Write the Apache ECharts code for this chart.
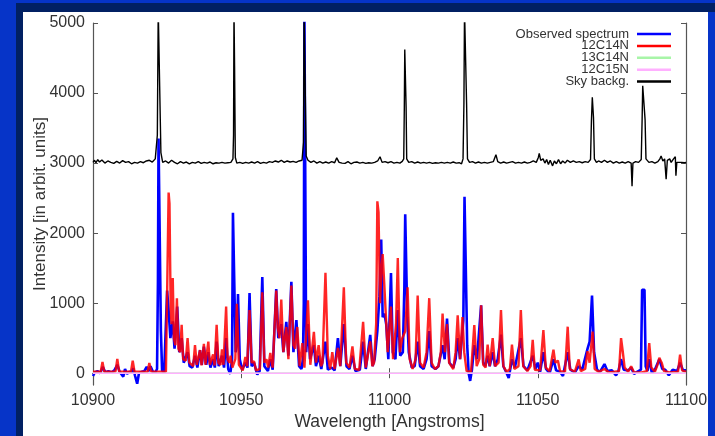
<!DOCTYPE html>
<html>
<head>
<meta charset="utf-8">
<script src="https://cdn.jsdelivr.net/npm/echarts@6/dist/echarts.min.js"></script>
<style>
  html, body { margin:0; padding:0; width:715px; height:436px; overflow:hidden; background:#0634c8; }
  #navyTop { position:absolute; left:16px; top:3px; width:699px; height:9px; background:#012063; }
  #navyLeft { position:absolute; left:16px; top:3px; width:7px; height:433px; background:#012063; }
  #panel { position:absolute; left:23px; top:12px; width:685px; height:424px; background:#fff; }
  #chart { position:absolute; left:0; top:0; width:715px; height:436px; }
</style>
</head>
<body>
<div id="navyTop"></div><div id="navyLeft"></div><div id="panel"></div>
<div id="chart"></div>
<script>
// ---- Data (wavelength [Å], intensity) ----
const xTicks = [10900, 10950, 11000, 11050, 11100];
const yTicks = [0, 1000, 2000, 3000, 4000, 5000];

const observed = [
[10900,-40],[10900.6,10],[10901.5,30],[10902.4,0],[10903.3,90],[10904.2,10],[10905.2,30],[10906.2,10],[10907.2,40],[10908.2,120],[10909.0,20],[10909.6,40],[10910.2,-50],[10910.8,60],[10911.5,-10],[10912.3,20],[10913.0,10],[10913.6,70],[10914.2,-40],[10914.9,-150],[10915.5,0],[10916.5,20],[10917.3,30],[10918.1,90],[10918.8,30],[10919.4,100],[10920.2,20],[10921.0,10],[10921.6,60],[10921.9,1300],[10922.1,3350],[10922.6,3350],[10922.9,600],[10923.3,40],[10924.0,10],[10924.6,30],
[10925.0,1180],[10925.5,900],[10926.1,500],[10926.9,740],[10927.5,350],[10928.4,950],[10929.1,300],[10929.9,500],[10930.6,150],[10931.9,300],[10932.6,100],[10933.5,80],[10934.4,250],[10935.2,80],[10936.1,330],[10936.7,120],[10937.4,380],[10938.2,120],[10938.9,300],[10939.6,80],[10940.5,200],[10941.1,80],[10941.7,450],[10942.4,100],[10943.5,250],[10944.2,80],[10944.9,500],[10945.6,60],[10946.3,-10],[10946.9,200],[10947.2,2290],[10947.7,2290],[10948.1,300],[10948.5,400],[10948.9,1130],[10949.5,200],[10950.3,50],
[10951.4,150],[10952.1,80],[10952.8,1145],[10953.5,100],[10954.3,150],[10955.4,-20],[10956.2,30],[10957.1,1374],[10957.8,100],[10959.0,30],[10959.8,200],[10960.6,50],[10961.8,1200],[10962.5,500],[10963.5,700],[10964.2,300],[10965.2,734],[10965.9,250],[10966.9,1304],[10967.6,300],[10968.6,757],[10969.5,100],[10970.3,60],[10970.8,200],[10971.1,1000],[10971.3,5200],[10971.6,5200],[10971.9,300],[10972.5,700],[10973.2,200],[10974.5,400],[10975.2,100],[10976.1,250],[10977.0,60],[10978.4,450],[10979.2,50],[10980.5,80],[10981.5,40],[10982.6,500],[10983.4,100],[10984.6,700],[10985.5,100],[10986.5,60],[10987.5,250],[10988.5,30],[10990.0,50],[10991.1,450],[10992.0,60],[10993.5,547],[10994.3,100],[10995.0,200],[10995.9,600],[10996.6,1100],[10997.2,1910],[10997.7,800],[10998.3,850],[10998.9,700],[10999.6,200],
[11000.5,1430],[11001.1,300],[11002.0,200],[11002.8,900],[11003.6,250],[11004.5,300],[11005.0,1200],[11005.3,2270],[11005.6,2270],[11006.0,800],[11006.5,300],[11007.5,80],[11008.5,100],[11009.5,450],[11010.3,100],[11011.5,60],[11012.5,200],[11013.4,600],[11014.2,100],[11015.5,60],[11016.5,100],[11017.9,400],[11018.6,200],[11019.4,780],[11020.2,150],[11021.5,80],[11022.3,200],[11023.0,500],[11023.8,200],[11024.9,750],[11025.3,2520],[11025.7,2520],[11026.2,400],[11026.7,0],[11027.2,-110],[11027.8,50],[11028.6,400],[11029.5,200],[11030.9,970],[11031.6,150],[11032.3,100],[11033.1,250],[11033.8,100],[11034.8,300],[11035.6,100],[11036.5,200],[11037.6,550],[11038.4,100],[11039.3,20],[11040.2,-70],[11041.3,200],[11042.3,80],[11044.3,500],[11045.2,100],[11046.5,40],[11048.3,250],[11049.2,60],
[11050.0,150],[11050.8,20],[11051.9,300],[11052.8,60],[11054.0,0],[11055.3,200],[11056.2,40],[11057.5,20],[11058.5,-40],[11060.1,300],[11061.0,50],[11062.5,10],[11063.8,100],[11065.0,50],[11066.8,350],[11067.5,450],[11068.3,1108],[11069.0,300],[11070.0,50],[11071.0,20],[11072.5,130],[11073.5,30],[11075.0,40],[11076.4,-30],[11077.2,30],[11078.1,200],[11079.0,50],[11080.5,40],[11081.5,80],[11082.5,-10],[11083.5,20],[11084.8,50],[11085.2,1190],[11086.0,1190],[11086.4,100],[11087.0,30],[11087.6,200],[11088.5,0],[11089.5,50],[11091.0,200],[11092.0,60],[11093.0,50],[11094.2,-30],[11095.5,50],[11097.0,30],[11098.0,150],[11099.0,40],[11100,40]
];

const model12C14N = [
[10900,20],[10902.6,20],[10903.2,160],[10903.8,20],[10907.6,25],[10908.2,205],[10908.8,25],[10912.8,20],[10913.4,180],[10914.0,20],[10918.4,20],[10919.0,145],[10919.6,25],[10924.6,20],
[10925.0,1150],[10925.5,2580],[10925.8,2420],[10926.2,900],[10926.5,700],[10926.9,1360],[10927.3,500],[10927.8,400],[10928.3,1070],[10928.8,350],[10929.4,300],[10929.9,690],[10930.4,200],[10931.3,180],[10931.9,500],[10932.5,150],[10933.8,100],[10934.4,400],[10935.0,120],[10935.6,120],[10936.1,330],[10936.6,110],[10937.0,130],[10937.4,420],[10937.9,120],[10938.4,130],[10938.9,450],[10939.4,120],[10940.0,100],[10940.5,270],[10941.0,110],[10941.7,690],[10942.3,150],[10943.0,120],[10943.5,340],[10944.0,120],[10944.9,950],[10945.4,200],[10946.0,150],[10946.4,250],[10947.0,80],[10948.0,200],[10948.5,990],[10949.2,120],[10950.5,40],
[10951.4,230],[10952.0,100],[10952.8,900],[10953.5,150],[10954.3,170],[10955.0,40],[10956.3,60],[10957.1,1155],[10957.8,150],[10958.5,200],[10959.1,80],[10959.8,290],[10960.6,80],[10961.8,1180],[10962.3,650],[10962.9,500],[10963.5,1050],[10964.2,300],[10965.2,660],[10965.9,200],[10966.9,1250],[10967.6,400],[10968.2,350],[10968.9,660],[10969.7,100],[10970.6,430],[10971.3,80],[10972.5,1040],[10973.3,120],[10974.5,590],[10975.2,150],[10976.1,400],[10976.9,100],[10977.4,150],[10978.4,1435],[10979.2,250],[10980.0,60],[10980.7,300],[10981.5,60],[10982.6,360],[10983.4,100],[10984.6,1225],[10985.4,150],[10986.5,80],[10987.5,383],[10988.3,60],[10989.8,50],[10991.1,734],[10992.0,80],[10993.5,453],[10994.2,100],[10994.8,150],[10995.5,700],[10995.9,2454],[10996.3,2300],[10996.8,1000],[10997.3,1500],[10997.7,1700],[10998.2,1300],[10998.8,1272],[10999.4,300],
[11000.5,950],[11001.2,200],[11002.2,700],[11002.8,1646],[11003.5,300],[11004.3,500],[11005.3,600],[11006.1,1225],[11006.8,200],[11007.8,60],[11008.8,200],[11009.5,1108],[11010.3,150],[11011.5,80],[11012.5,300],[11013.4,1071],[11014.2,150],[11015.3,60],[11016.5,100],[11017.3,300],[11017.9,851],[11018.7,300],[11019.4,700],[11020.1,150],[11021.5,60],[11022.3,300],[11023.0,827],[11023.8,200],[11024.6,800],[11025.2,300],[11026.0,30],[11027.5,20],[11028.6,687],[11029.4,100],[11030.3,200],[11030.9,968],[11031.6,120],[11032.4,80],[11033.1,407],[11033.8,100],[11034.8,500],[11035.6,100],[11036.8,150],[11037.6,900],[11038.4,100],[11039.5,20],[11040.6,60],[11041.3,407],[11042.1,60],[11043.5,100],[11044.3,900],[11045.1,100],[11046.5,30],[11047.6,100],[11048.3,477],[11049.0,50],
[11050.8,40],[11051.9,617],[11052.7,80],[11054.0,30],[11055.3,337],[11055.9,150],[11056.8,180],[11057.5,30],[11059.2,20],[11060.1,664],[11060.8,60],[11062.5,20],[11063.8,196],[11064.5,30],[11066.0,60],[11066.8,313],[11067.5,150],[11068.5,594],[11069.2,60],[11070.5,20],[11072.5,60],[11074.0,10],[11077.4,30],[11078.1,500],[11078.7,300],[11079.3,80],[11080.5,20],[11081.5,100],[11082.5,10],[11085.0,10],[11086.8,30],[11087.6,430],[11088.3,80],[11089.5,20],[11090.4,120],[11091.0,220],[11091.8,150],[11092.6,30],[11094.5,10],[11097.3,20],[11098.0,266],[11098.7,40],[11100,20]
];

const model13C14N = [[10900,0],[10950,0],[11000,0],[11050,0],[11100,0]];
const model12C15N = [[10900,0],[10950,0],[11000,0],[11050,0],[11100,0]];

const skyBackground = [
[10900,3010],[10900.5,3040],[10901,3005],[10901.6,3050],[10902.2,3015],[10903,3045],[10904,3000],[10905,3030],[10906,3010],[10907,2995],[10908,3025],[10909,3000],[10910,3035],[10911,3010],[10912,3020],[10913,2990],[10914,3010],[10915,3000],[10916,3020],[10917,3005],[10918,3030],[10919,3040],[10920,3015],[10921,3060],[10921.7,3400],[10922.0,5200],[10922.6,5200],[10922.9,3150],[10923.5,3010],[10924.5,3030],[10925.5,3000],[10926.5,3040],[10927.5,3010],[10928.5,2990],[10929.5,3020],[10930.5,3000],[10931.5,3015],[10932.5,2990],[10933.5,3010],[10934.5,3000],[10935.5,3020],[10936.5,2995],[10937.5,3010],[10938.5,3000],[10939.5,3015],[10940.5,2990],[10941.5,3005],[10942.5,3000],[10943.5,3010],[10944.5,3000],[10945.5,3005],[10946.5,3010],[10947.2,3060],[10947.4,3400],[10947.55,5200],[10947.75,4380],[10948.0,3080],[10948.5,3000],[10949.5,3010],[10950.5,2995],[10951.5,3010],[10952.5,3000],[10953.5,3015],[10954.5,3000],[10955.5,3020],[10956.5,2995],[10957.5,3010],[10958.5,3000],[10959.5,3020],[10960.5,3010],[10961.5,3030],[10962.5,3015],[10963.5,3040],[10964.5,3010],[10965.5,3030],[10966.5,3015],[10967.5,3025],[10968.5,3010],[10969.5,3030],[10970.5,3040],[10971.0,3300],[10971.2,5200],[10971.6,5200],[10971.9,3100],[10972.5,3040],[10973.5,3010],[10974.5,3030],[10975.5,3000],[10976.5,3020],[10977.5,3000],[10978.5,3015],[10979.5,3000],[10980.5,3020],[10981.5,3005],[10982.2,3075],[10983,3010],[10984,3000],[10985,2995],[10986,3020],[10987,2990],[10988,3010],[10989,3015],[10990,3000],[10991,3010],[10992,2995],[10993,3005],[10994,3000],[10995,3010],[10996,3030],[10996.8,3090],[10997.5,3010],[10998.5,3020],
[10999.5,3005],[11000.5,3020],[11001.5,3000],[11002.5,3010],[11003.5,3000],[11004.3,3025],[11004.8,3060],[11005.0,3800],[11005.15,4620],[11005.4,4620],[11005.6,3800],[11005.8,3060],[11006.5,3010],[11007.5,3020],[11008.5,3000],[11009.5,3015],[11010.5,3000],[11011.5,3010],[11012.5,3000],[11013.5,3010],[11014.5,2995],[11015.5,3005],[11016.5,3000],[11017.5,3010],[11018.5,3000],[11019.5,3010],[11020.5,3000],[11021.5,3015],[11022.5,3000],[11023.5,3005],[11024.3,2990],[11024.8,3060],[11025.1,3850],[11025.3,5200],[11025.8,5200],[11026.0,3850],[11026.3,3060],[11027,3010],[11028,3020],[11029,3000],[11030,3015],[11031,3000],[11032,3010],[11033,3000],[11034,3010],[11035,3020],[11035.9,3120],[11036.5,3020],[11037.5,3000],[11038.5,3015],[11039.5,3000],[11040.5,3010],[11041.5,3020],[11042.5,3000],[11043.5,3010],[11044.5,3000],[11045.5,3015],[11046.5,3000],[11047.5,3010],[11048.5,3030],[11049.5,3010],[11050.2,3080],[11050.5,3140],[11051,3040],[11051.8,3060],[11052.4,3000],[11053,3050],[11053.6,2980],[11054.2,3040],[11055.0,2960],[11055.6,3030],[11056.3,2990],[11057,3050],[11057.7,2990],[11058.4,3030],[11059.2,3000],[11060,3040],[11061,3010],[11062,3030],[11063,3010],[11064,3020],[11065,3005],[11066,3020],[11067,3010],[11067.8,3050],[11068.1,3600],[11068.4,3940],[11068.6,3940],[11068.8,3650],[11069.1,3060],[11069.8,3010],[11070.5,3030],[11071.5,3010],[11072.5,3040],[11073.5,3010],[11074.5,3030],[11075.5,3000],[11076.5,3020],[11077.5,3000],[11078.5,3015],[11079.5,3000],[11080.5,3020],[11081.5,3000],[11081.8,2670],[11082.1,3000],[11083,3020],[11084,3010],[11084.9,3050],[11085.2,3620],[11085.4,4105],[11086.0,4105],[11086.2,3620],[11086.5,3060],[11087.5,3010],[11088.5,3020],[11089.5,3000],[11090.5,3020],[11091.2,3060],[11091.6,3100],[11092.2,3030],[11092.8,3060],[11093.3,2770],[11093.7,3040],[11094.5,3060],[11095,3010],[11095.8,3060],[11096.4,3090],[11096.6,2820],[11096.9,3010],[11097.5,3000],[11098.5,3010],[11099.5,3005],[11100,3010]
];

const seriesNames = ['Observed spectrum', '12C14N', '13C14N', '12C15N', 'Sky backg.'];
const seriesColors = ['#0000ff', '#ff0000', '#a8f5a8', '#ffb0ff', '#000000'];
const seriesData = [observed, model12C14N, model13C14N, model12C15N, skyBackground];
const seriesWidths = [2.6, 2.4, 1.5, 1.5, 1.4];

// ---- Chart ----
const FONT = 'Liberation Sans, Arial, Helvetica, sans-serif';
const chart = echarts.init(document.getElementById('chart'), null, { renderer: 'canvas' });
const axisCol = '#555';
const plain = v => String(Math.round(v));

const legends = seriesNames.map((n, i) => ({
  data: [n], orient: 'vertical', align: 'right', right: 44, top: 27.5 + i * 11.9,
  icon: 'rect', itemWidth: 34, itemHeight: 2.5, padding: 0,
  textStyle: { fontSize: 13, color: '#333', fontFamily: FONT, padding: [0, 3, 0, 0] },
  selectedMode: false
}));

chart.setOption({
  animation: false,
  backgroundColor: 'transparent',
  grid: { left: 93, right: 29, top: 23, bottom: 45, containLabel: false },
  legend: legends,
  xAxis: [{
    type: 'value', min: xTicks[0], max: xTicks[xTicks.length - 1], interval: 50,
    name: 'Wavelength [Angstroms]', nameLocation: 'middle', nameGap: 21,
    nameTextStyle: { fontSize: 17.5, color: '#333', fontFamily: FONT },
    axisLine: { show: true, lineStyle: { color: axisCol, width: 1.2 } },
    axisTick: { show: true, inside: true, length: 5, lineStyle: { color: axisCol } },
    axisLabel: { fontSize: 16, color: '#333', fontFamily: FONT, margin: 7, formatter: plain, showMinLabel: true, showMaxLabel: true },
    splitLine: { show: false }
  }, {
    type: 'value', position: 'top', min: xTicks[0], max: xTicks[xTicks.length - 1], interval: 50,
    axisLine: { show: true, lineStyle: { color: axisCol, width: 1.2 } },
    axisTick: { show: true, inside: true, length: 5, lineStyle: { color: axisCol } },
    axisLabel: { show: false }, splitLine: { show: false }
  }],
  yAxis: [{
    type: 'value', min: -170, max: 5000,
    axisLine: { show: true, lineStyle: { color: axisCol, width: 1.2 } },
    axisTick: { show: true, inside: true, length: 5, lineStyle: { color: axisCol }, customValues: yTicks },
    axisLabel: { fontSize: 16, color: '#333', fontFamily: FONT, margin: 8, formatter: plain, customValues: yTicks },
    splitLine: { show: false }
  }, {
    type: 'value', position: 'right', min: -170, max: 5000,
    axisLine: { show: true, lineStyle: { color: axisCol, width: 1.2 } },
    axisTick: { show: true, inside: true, length: 5, lineStyle: { color: axisCol }, customValues: yTicks },
    axisLabel: { show: false }, splitLine: { show: false }
  }],
  graphic: [{
    type: 'text', x: 40, y: 204, rotation: Math.PI / 2,
    style: { text: 'Intensity [in arbit. units]', fontSize: 17, fill: '#333', fontFamily: FONT,
             align: 'center', verticalAlign: 'middle' }
  }],
  series: seriesNames.map((n, i) => ({
    name: n, type: 'line', data: seriesData[i], xAxisIndex: 0, yAxisIndex: 0,
    symbol: 'none', showSymbol: false, clip: true, z: 2 + i,
    lineStyle: { color: seriesColors[i], width: seriesWidths[i], opacity: i === 1 ? 0.85 : 1 },
    itemStyle: { color: seriesColors[i] }
  }))
});
</script>
</body>
</html>
